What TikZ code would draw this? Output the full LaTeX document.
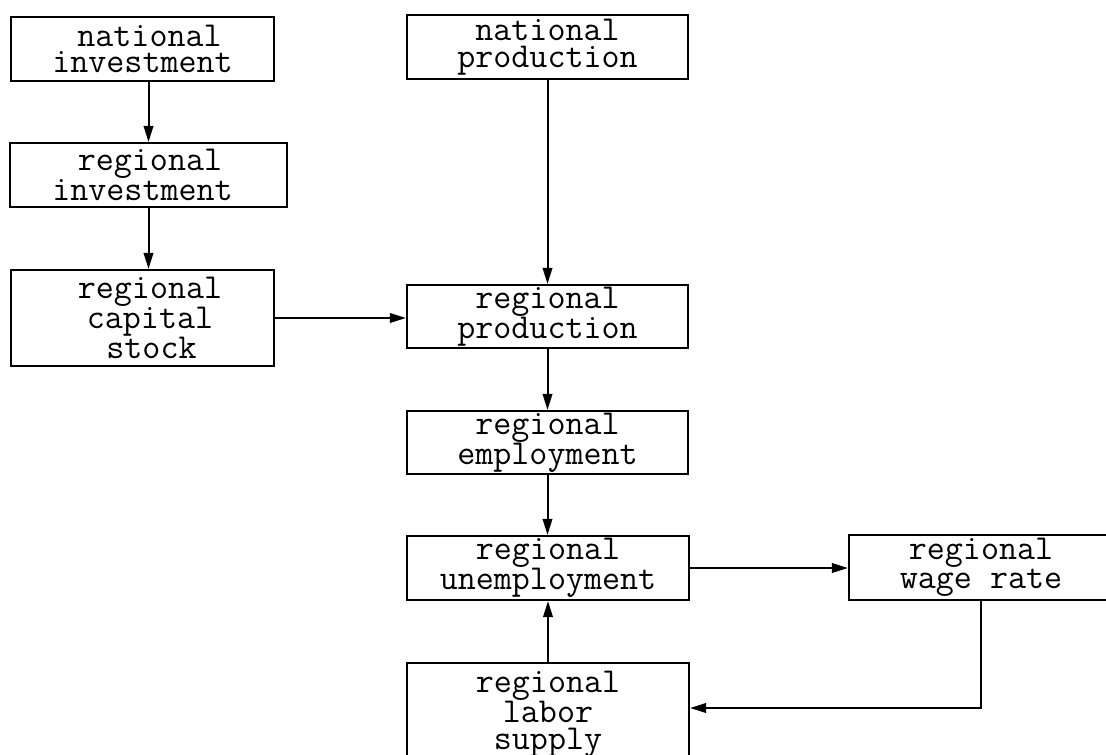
\documentclass[tikz,border=0pt]{standalone}
\usepackage{fontspec}
\usetikzlibrary{arrows.meta}

\tikzset{
  block/.style={draw, line width=2.1pt, inner sep=0pt, align=center,
    font=\ttfamily\fontsize{35}{26.5}\selectfont},
  flow/.style={line width=2pt, -{Triangle[length=16pt,width=9.5pt]}},
}
% nudge a typed line sideways inside a centred block
\newcommand\nudge[1]{\hspace*{#1}}

\begin{document}
\begin{tikzpicture}[x=1pt, y=-1pt]
  \useasboundingbox (0,0) rectangle (1106,755);
  \clip (0,0) rectangle (1106,755);

  % left column: investment chain
  \node[block, minimum width=263pt, minimum height=64pt] (ninv) at (142.5,49)
    {\nudge{14pt}national\\investment};
  \node[block, minimum width=277pt, minimum height=64pt] (rinv) at (148.5,175)
    {\nudge{3pt}regional\\\nudge{-12pt}investment};
  \node[block, minimum width=263pt, minimum height=96pt] (cap) at (142.5,318)
    {\nudge{15pt}regional\\\nudge{15pt}capital\\\nudge{18pt}stock};

  % middle column: production and labour market
  \node[block, minimum width=281pt, minimum height=64pt] (nprod) at (547.5,47)
    {national\\production};
  \node[block, minimum width=281pt, minimum height=63pt] (rprod) at (547.5,316.5)
    {regional\\production};
  \node[block, minimum width=281pt, minimum height=63pt] (remp) at (547.5,442.5)
    {regional\\employment};
  \node[block, minimum width=282pt, minimum height=64pt] (rune) at (548,568)
    {regional\\unemployment};
  \node[block, minimum width=282pt, minimum height=102pt] (rlab) at (548,714)
    {regional\\labor\\supply};

  % right column
  \node[block, minimum width=264pt, minimum height=65pt] (wage) at (981,567.5)
    {regional\\wage rate};

  % connectors
  \draw[flow] ([xshift=6pt]ninv.south) -- ([xshift=6pt]ninv.south |- rinv.north);
  \draw[flow] (rinv.south) -- (rinv.south |- cap.north);
  \draw[flow] (nprod.south) -- (nprod.south |- rprod.north);
  \draw[flow] (cap.east) -- (cap.east -| rprod.west);
  \draw[flow] (rprod.south) -- (rprod.south |- remp.north);
  \draw[flow] (remp.south) -- (remp.south |- rune.north);
  \draw[flow] (rlab.north) -- (rlab.north |- rune.south);
  \draw[flow] (rune.east) -- (rune.east -| wage.west);
  \coordinate (wbend) at (981,708);
  \draw[flow] (wage.south) -- (wbend) -- (wbend -| rlab.east);
\end{tikzpicture}
\end{document}
